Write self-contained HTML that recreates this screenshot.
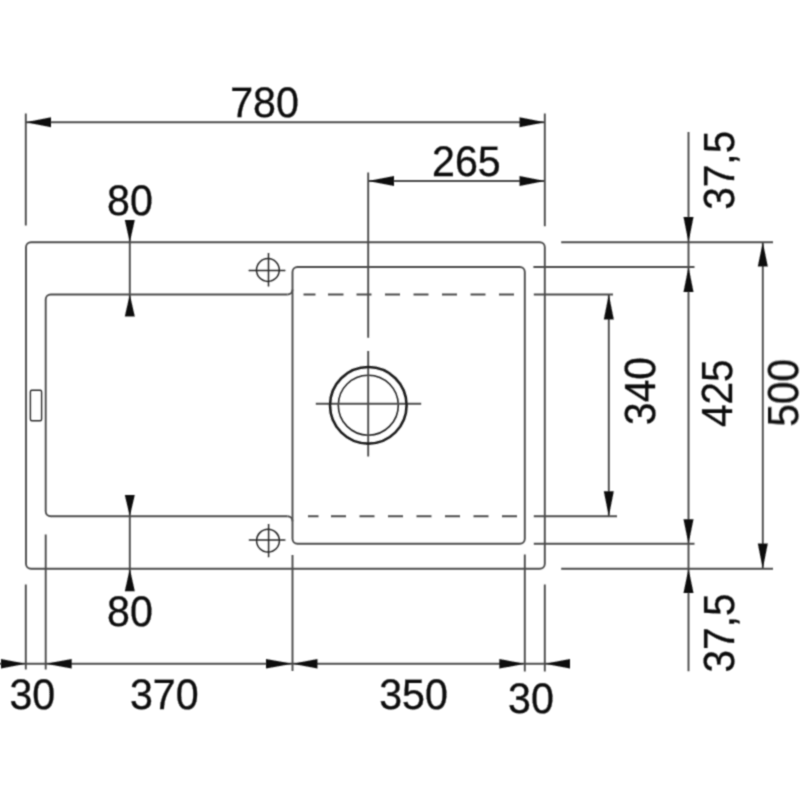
<!DOCTYPE html>
<html>
<head>
<meta charset="utf-8">
<title>Sink dimensions</title>
<style>
html,body{margin:0;padding:0;background:#fff;}
body{width:800px;height:800px;overflow:hidden;}
svg{display:block;}
text{font-family:"Liberation Sans",sans-serif;font-size:42px;fill:#111;stroke:#111;stroke-width:0.35;text-rendering:geometricPrecision;}
.l{stroke:#4c4c4c;stroke-width:1.9;fill:none;}
.a{fill:#111;stroke:none;}
</style>
</head>
<body>
<svg width="800" height="800" viewBox="0 0 800 800">
<defs><filter id="soft" x="0" y="0" width="800" height="800" filterUnits="userSpaceOnUse"><feConvolveMatrix order="3" kernelMatrix="0.0400 0.1200 0.0400 0.1200 0.3600 0.1200 0.0400 0.1200 0.0400" divisor="1" edgeMode="duplicate" preserveAlpha="false"/></filter></defs>
<rect x="0" y="0" width="800" height="800" fill="#ffffff"/>
<g filter="url(#soft)">

<!-- sink outline -->
<g class="l">
  <!-- outer -->
  <rect x="26" y="242.2" width="518.8" height="326.6" rx="5" ry="5"/>
  <!-- bowl -->
  <rect x="292.5" y="267" width="232.3" height="276.8" rx="5" ry="5"/>
  <!-- drainer -->
  <path d="M287.5 294.5 H50.7 A5 5 0 0 0 45.7 299.5 V511.3 A5 5 0 0 0 50.7 516.3 H287.5"/>
  <path d="M287.5 294.5 A5 5 0 0 0 292.5 289.5"/>
  <path d="M287.5 516.3 A5 5 0 0 1 292.5 521.3"/>
  <!-- overflow -->
  <rect x="30.4" y="390.2" width="11.2" height="30.6" rx="1.5" ry="1.5" style="stroke-width:1.4;stroke:#2c2c2c"/>
  <!-- tap holes -->
  <g style="stroke:#262626;stroke-width:1.5">
  <circle cx="267.9" cy="270" r="11.4"/>
  <path d="M248.6 270.6 H285.4 M268.5 253 V286.6"/>
  <circle cx="268" cy="540.7" r="11.4"/>
  <path d="M248.8 540 H285.4 M268.6 524 V557.2"/>
  </g>
  <!-- drain inner -->
  <circle cx="368.3" cy="405.2" r="30" style="stroke-width:1.6;stroke:#222"/>
  <path d="M315.8 403.8 H421.2 M368.2 351 V456.4"/>
  <!-- dashed -->
  <path d="M303.5 294.5 H315.5 M328 294.5 h15.5 M356.5 294.5 h15 M385 294.5 h15 M413.5 294.5 h15 M442 294.5 h15 M470.5 294.5 h15 M499 294.5 h15"/>
  <path d="M308 516.3 H318.5 M331 516.3 h15 M359.5 516.3 h15 M388 516.3 h15 M416.5 516.3 h15 M445 516.3 h15 M473.5 516.3 h15 M502 516.3 h15"/>
</g>
<!-- drain outer -->
<circle cx="368.3" cy="405.3" r="38.3" fill="none" stroke="#1c1c1c" stroke-width="2.6"/>

<!-- extension + dimension lines -->
<g class="l">
  <!-- top 780 -->
  <path d="M25.8 113.5 V225.5 M544.8 113.5 V226.3 M25.8 122.3 H544.8"/>
  <!-- 265 -->
  <path d="M368.2 172.5 V337.8 M368.2 181 H544.8"/>
  <!-- 80 top/bottom -->
  <path d="M129.8 220 V316 M129.8 495 V591"/>
  <!-- right horizontals -->
  <path d="M561.2 242.2 H773 M533.4 267 H694.5 M533.8 294.5 H613 M533.8 516.3 H617 M533.8 543.8 H694.5 M561.2 568.8 H773"/>
  <!-- right verticals -->
  <path d="M608.8 294.5 V516.3 M688.5 132 V671.2 M762.8 242.2 V568.8"/>
  <!-- bottom ext -->
  <path d="M25.8 584.5 V669.5 M45.7 534.5 V669.5 M292.5 555 V671 M524.8 554.5 V671.5 M544.8 584.5 V671.5"/>
  <!-- bottom dim -->
  <path d="M0 663.8 H570"/>
</g>

<!-- arrows -->
<g class="a">
  <!-- 780 -->
  <path d="M25.8 122.3 L51 117.3 V127.3 Z"/>
  <path d="M544.8 122.3 L519.5 117.3 V127.3 Z"/>
  <!-- 265 -->
  <path d="M368.2 181 L394 176 V186 Z"/>
  <path d="M544.8 181 L519.5 176 V186 Z"/>
  <!-- 80 top -->
  <path d="M129.8 242.2 L124.8 220 H134.8 Z"/>
  <path d="M129.8 294.5 L124.8 316.5 H134.8 Z"/>
  <!-- 80 bottom -->
  <path d="M129.8 516.3 L124.8 495 H134.8 Z"/>
  <path d="M129.8 568.8 L124.8 591.3 H134.8 Z"/>
  <!-- 340 -->
  <path d="M608.8 294.5 L603.8 319.5 H613.8 Z"/>
  <path d="M608.8 516.3 L603.8 491.3 H613.8 Z"/>
  <!-- 425 / 37.5 -->
  <path d="M688.5 242.2 L683.5 217 H693.5 Z"/>
  <path d="M688.5 267 L683.5 292 H693.5 Z"/>
  <path d="M688.5 543.8 L683.5 519.3 H693.5 Z"/>
  <path d="M688.5 568.8 L683.5 593 H693.5 Z"/>
  <!-- 500 -->
  <path d="M762.8 242.2 L757.8 266.5 H767.8 Z"/>
  <path d="M762.8 568.8 L757.8 543.5 H767.8 Z"/>
  <!-- bottom -->
  <path d="M25.8 663.8 L1 659 V668.6 Z"/>
  <path d="M45.7 663.8 L71.7 659 V668.6 Z"/>
  <path d="M292.5 663.8 L266 659 V668.6 Z"/>
  <path d="M292.5 663.8 L317.5 659 V668.6 Z"/>
  <path d="M524.8 663.8 L499.3 659 V668.6 Z"/>
  <path d="M544.8 663.8 L570 659 V668.6 Z"/>
</g>

<!-- labels -->
<g text-anchor="middle">
  <text transform="translate(264.5 117.4) scale(0.98 1.015)">780</text>
  <text transform="translate(466.4 175.8) scale(0.98 1.015)">265</text>
  <text transform="translate(129.9 215) scale(0.98 1.015)">80</text>
  <text transform="translate(129.9 626.2) scale(0.98 1.015)">80</text>
  <text transform="translate(32.3 708.5) scale(0.98 1.015)">30</text>
  <text transform="translate(164.3 708.5) scale(0.98 1.015)">370</text>
  <text transform="translate(413.5 708.5) scale(0.98 1.015)">350</text>
  <text transform="translate(530.9 712.9) scale(0.98 1.015)">30</text>
  <text transform="translate(655.4 391) rotate(-90) scale(0.967 1.035)">340</text>
  <text transform="translate(731.8 393.2) rotate(-90) scale(0.967 1.035)">425</text>
  <text transform="translate(798.4 392.8) rotate(-90) scale(0.967 1.035)">500</text>
  <text transform="translate(733.6 170.3) rotate(-90) scale(0.967 1.035)">37,5</text>
  <text transform="translate(733.6 633) rotate(-90) scale(0.967 1.035)">37,5</text>
</g>
</g>
</svg>
</body>
</html>
